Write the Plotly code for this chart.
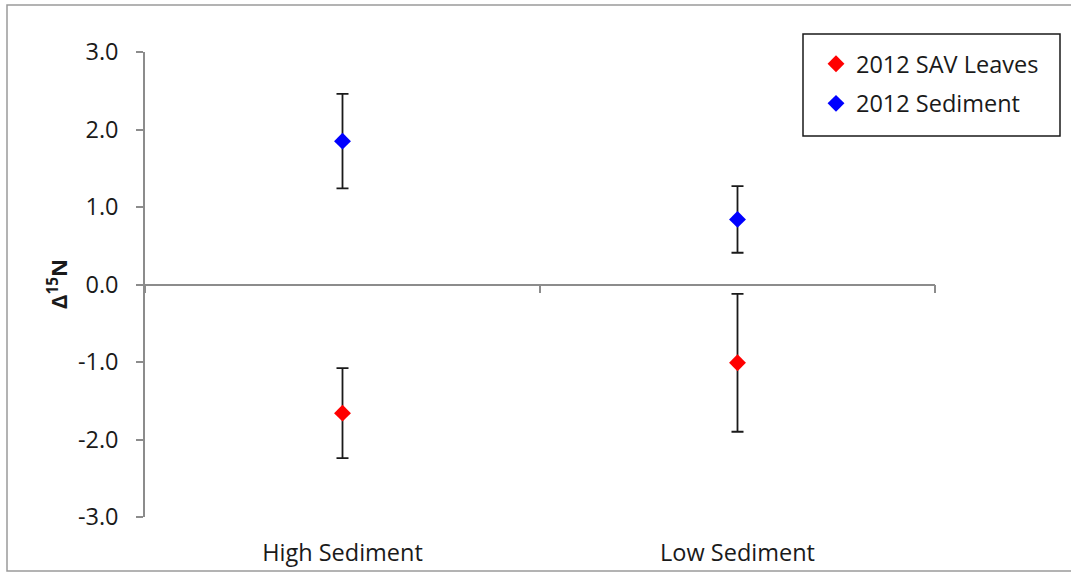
import plotly.graph_objects as go

categories = ["High Sediment", "Low Sediment"]
sav_leaves = [-1.66, -1.01]
sav_leaves_err = [0.58, 0.89]
sediment = [1.85, 0.84]
sediment_err = [0.61, 0.43]
y_ticks = [-3, -2, -1, 0, 1, 2, 3]
y_tick_labels = ["-3.0", "-2.0", "-1.0", "0.0", "1.0", "2.0", "3.0"]

W, H = 1071, 574
L, R, T, B = 145, 136, 52, 57
pw, ph = W - L - R, H - T - B

FONT = "Open Sans"
fs = 23.5
axis_gray = "#8c8c8c"
txt = "#1a1a1a"


def px_x(px):
    return (px - L) / pw


def px_y(py):
    return (H - B - py) / ph


fig = go.Figure()

fig.add_trace(go.Scatter(
    x=categories, y=sav_leaves, mode="markers", name="2012 SAV Leaves",
    legendgroup="a",
    marker=dict(symbol="diamond", size=13, color="#ff0000"),
    error_y=dict(type="data", array=sav_leaves_err, visible=True,
                 color=txt, thickness=1.8, width=6),
))
fig.add_trace(go.Scatter(
    x=categories, y=sediment, mode="markers", name="2012 Sediment",
    legendgroup="b",
    marker=dict(symbol="diamond", size=13, color="#0000ff"),
    error_y=dict(type="data", array=sediment_err, visible=True,
                 color=txt, thickness=1.8, width=6),
))
# invisible trace to define categories on the zero-line axis
fig.add_trace(go.Scatter(
    x=categories, y=[0, 0], xaxis="x2", mode="markers",
    marker=dict(opacity=0), showlegend=False, hoverinfo="skip",
))

fig.update_layout(
    width=W, height=H,
    margin=dict(l=L, r=R, t=T, b=B, autoexpand=False),
    paper_bgcolor="white", plot_bgcolor="white",
    font=dict(family=FONT, size=fs, color=txt),
    showlegend=True,
    legend=dict(
        x=px_x(816), y=px_y(42),
        xanchor="left", yanchor="top",
        borderwidth=0, bgcolor="rgba(0,0,0,0)",
        font=dict(family=FONT, size=fs, color=txt),
        tracegroupgap=6, traceorder="grouped",
        itemwidth=30,
    ),
    xaxis=dict(
        type="category", categoryarray=categories, range=[-0.5, 1.5],
        showline=False, showgrid=False, zeroline=False,
        ticks="", tickfont=dict(family=FONT, size=fs, color=txt),
        ticklabelstandoff=19,
    ),
    xaxis2=dict(
        type="category", categoryarray=categories, range=[-0.5, 1.5],
        overlaying="x", anchor="free", position=0.5, side="bottom",
        showline=True, linecolor=axis_gray, linewidth=1.5,
        ticks="outside", tickson="boundaries", ticklen=8,
        tickcolor=axis_gray, tickwidth=1.5,
        showticklabels=False, showgrid=False, zeroline=False,
    ),
    yaxis=dict(
        range=[-3, 3], tickvals=y_ticks, ticktext=y_tick_labels,
        showline=True, linecolor=axis_gray, linewidth=1.5,
        ticks="outside", ticklen=7, tickcolor=axis_gray, tickwidth=1.5,
        showgrid=False, zeroline=False,
        tickfont=dict(family=FONT, size=fs, color=txt),
        ticklabelstandoff=13,
    ),
    annotations=[dict(
        text="<b>Δ<sup>15</sup>N</b>", xref="paper", yref="paper",
        x=px_x(57), y=px_y(284), xanchor="center", yanchor="middle",
        textangle=-90, showarrow=False,
        font=dict(family=FONT, size=22, color=txt),
    )],
    shapes=[
        dict(
            type="rect", xref="paper", yref="paper",
            x0=px_x(7), x1=px_x(W + 5),
            y0=px_y(571), y1=px_y(5),
            line=dict(color="#9a9a9a", width=1.5), layer="below",
        ),
        dict(
            type="rect", xref="paper", yref="paper",
            x0=px_x(803), x1=px_x(1060),
            y0=px_y(136), y1=px_y(34),
            line=dict(color=txt, width=1.5), fillcolor="white", layer="below",
        ),
    ],
)

fig.write_html("out.html")
